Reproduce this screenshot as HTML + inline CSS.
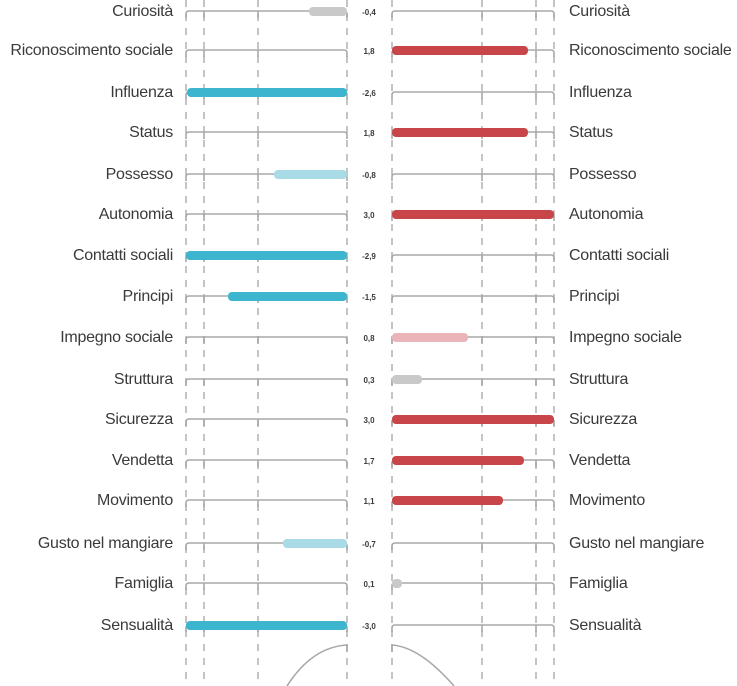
<!DOCTYPE html>
<html><head><meta charset="utf-8"><style>
html,body{margin:0;padding:0;background:#fff;}
svg{display:block;}
text{font-family:"Liberation Sans",sans-serif;fill:#3a3a3a;}
.l{font-size:16px;letter-spacing:-0.25px;}
.v{font-size:8px;font-weight:bold;fill:#333;}
</style></head><body>
<svg width="737" height="686" viewBox="0 0 737 686" xmlns="http://www.w3.org/2000/svg">
<g stroke="#b5b5b5" stroke-width="1.6" stroke-dasharray="7,7" fill="none">
<line x1="186" y1="0" x2="186" y2="686"/><line x1="204" y1="0" x2="204" y2="686"/>
<line x1="258" y1="0" x2="258" y2="686"/><line x1="347" y1="0" x2="347" y2="686"/>
<line x1="392" y1="0" x2="392" y2="686"/><line x1="482" y1="0" x2="482" y2="686"/>
<line x1="536" y1="0" x2="536" y2="686"/><line x1="554" y1="0" x2="554" y2="686"/>
</g>
<defs>
<g id="ax" fill="none" stroke="#a8a8a8" stroke-width="1.6">
<path d="M186,7 v-4 q0,-3 3,-3 H344 q3,0 3,3 v4"/>
<line x1="204" y1="0" x2="204" y2="7"/><line x1="258" y1="0" x2="258" y2="7"/>
<path d="M392,7 v-4 q0,-3 3,-3 H551 q3,0 3,3 v4"/>
<line x1="482" y1="0" x2="482" y2="7"/><line x1="536" y1="0" x2="536" y2="7"/>
</g>
</defs>
<g>
<use href="#ax" y="11"/><use href="#ax" y="50"/><use href="#ax" y="92"/><use href="#ax" y="132"/>
<use href="#ax" y="174"/><use href="#ax" y="214"/><use href="#ax" y="255"/><use href="#ax" y="296"/>
<use href="#ax" y="337"/><use href="#ax" y="379"/><use href="#ax" y="419"/><use href="#ax" y="460"/>
<use href="#ax" y="500"/><use href="#ax" y="543"/><use href="#ax" y="583"/><use href="#ax" y="625"/>
</g>
<g>
<rect x="309" y="7" width="38" height="9" rx="4" fill="#c9c9c9"/>
<rect x="392" y="46" width="136" height="9" rx="4" fill="#c8464a"/>
<rect x="187" y="88" width="160" height="9" rx="4" fill="#3db5cf"/>
<rect x="392" y="128" width="136" height="9" rx="4" fill="#c8464a"/>
<rect x="274" y="170" width="73" height="9" rx="4" fill="#a9dbe7"/>
<rect x="392" y="210" width="162" height="9" rx="4" fill="#c8464a"/>
<rect x="186" y="251" width="161" height="9" rx="4" fill="#3db5cf"/>
<rect x="228" y="292" width="119" height="9" rx="4" fill="#3db5cf"/>
<rect x="392" y="333" width="76" height="9" rx="4" fill="#ebb4b8"/>
<rect x="392" y="375" width="30" height="9" rx="4" fill="#c9c9c9"/>
<rect x="392" y="415" width="162" height="9" rx="4" fill="#c8464a"/>
<rect x="392" y="456" width="132" height="9" rx="4" fill="#c8464a"/>
<rect x="392" y="496" width="111" height="9" rx="4" fill="#c8464a"/>
<rect x="283" y="539" width="64" height="9" rx="4" fill="#a9dbe7"/>
<rect x="392" y="579" width="10" height="9" rx="4" fill="#c9c9c9"/>
<rect x="186" y="621" width="161" height="9" rx="4" fill="#3db5cf"/>
</g>
<g fill="none" stroke="#a8a8a8" stroke-width="1.6">
<path d="M347,652 v-7 q-35,2 -60,41"/>
<path d="M392,652 v-7 q28,2 62,41"/>
</g>
<g class="l" text-anchor="end">
<text x="173" y="16">Curiosità</text>
<text x="173" y="55">Riconoscimento sociale</text>
<text x="173" y="97">Influenza</text>
<text x="173" y="137">Status</text>
<text x="173" y="179">Possesso</text>
<text x="173" y="219">Autonomia</text>
<text x="173" y="260">Contatti sociali</text>
<text x="173" y="301">Principi</text>
<text x="173" y="342">Impegno sociale</text>
<text x="173" y="384">Struttura</text>
<text x="173" y="424">Sicurezza</text>
<text x="173" y="465">Vendetta</text>
<text x="173" y="505">Movimento</text>
<text x="173" y="548">Gusto nel mangiare</text>
<text x="173" y="588">Famiglia</text>
<text x="173" y="630">Sensualità</text>
</g>
<g class="l">
<text x="569" y="16">Curiosità</text>
<text x="569" y="55">Riconoscimento sociale</text>
<text x="569" y="97">Influenza</text>
<text x="569" y="137">Status</text>
<text x="569" y="179">Possesso</text>
<text x="569" y="219">Autonomia</text>
<text x="569" y="260">Contatti sociali</text>
<text x="569" y="301">Principi</text>
<text x="569" y="342">Impegno sociale</text>
<text x="569" y="384">Struttura</text>
<text x="569" y="424">Sicurezza</text>
<text x="569" y="465">Vendetta</text>
<text x="569" y="505">Movimento</text>
<text x="569" y="548">Gusto nel mangiare</text>
<text x="569" y="588">Famiglia</text>
<text x="569" y="630">Sensualità</text>
</g>
<g class="v" text-anchor="middle">
<text x="369" y="15">-0,4</text><text x="369" y="54">1,8</text><text x="369" y="96">-2,6</text>
<text x="369" y="136">1,8</text><text x="369" y="178">-0,8</text><text x="369" y="218">3,0</text>
<text x="369" y="259">-2,9</text><text x="369" y="300">-1,5</text><text x="369" y="341">0,8</text>
<text x="369" y="383">0,3</text><text x="369" y="423">3,0</text><text x="369" y="464">1,7</text>
<text x="369" y="504">1,1</text><text x="369" y="547">-0,7</text><text x="369" y="587">0,1</text>
<text x="369" y="629">-3,0</text>
</g>
</svg>
</body></html>
